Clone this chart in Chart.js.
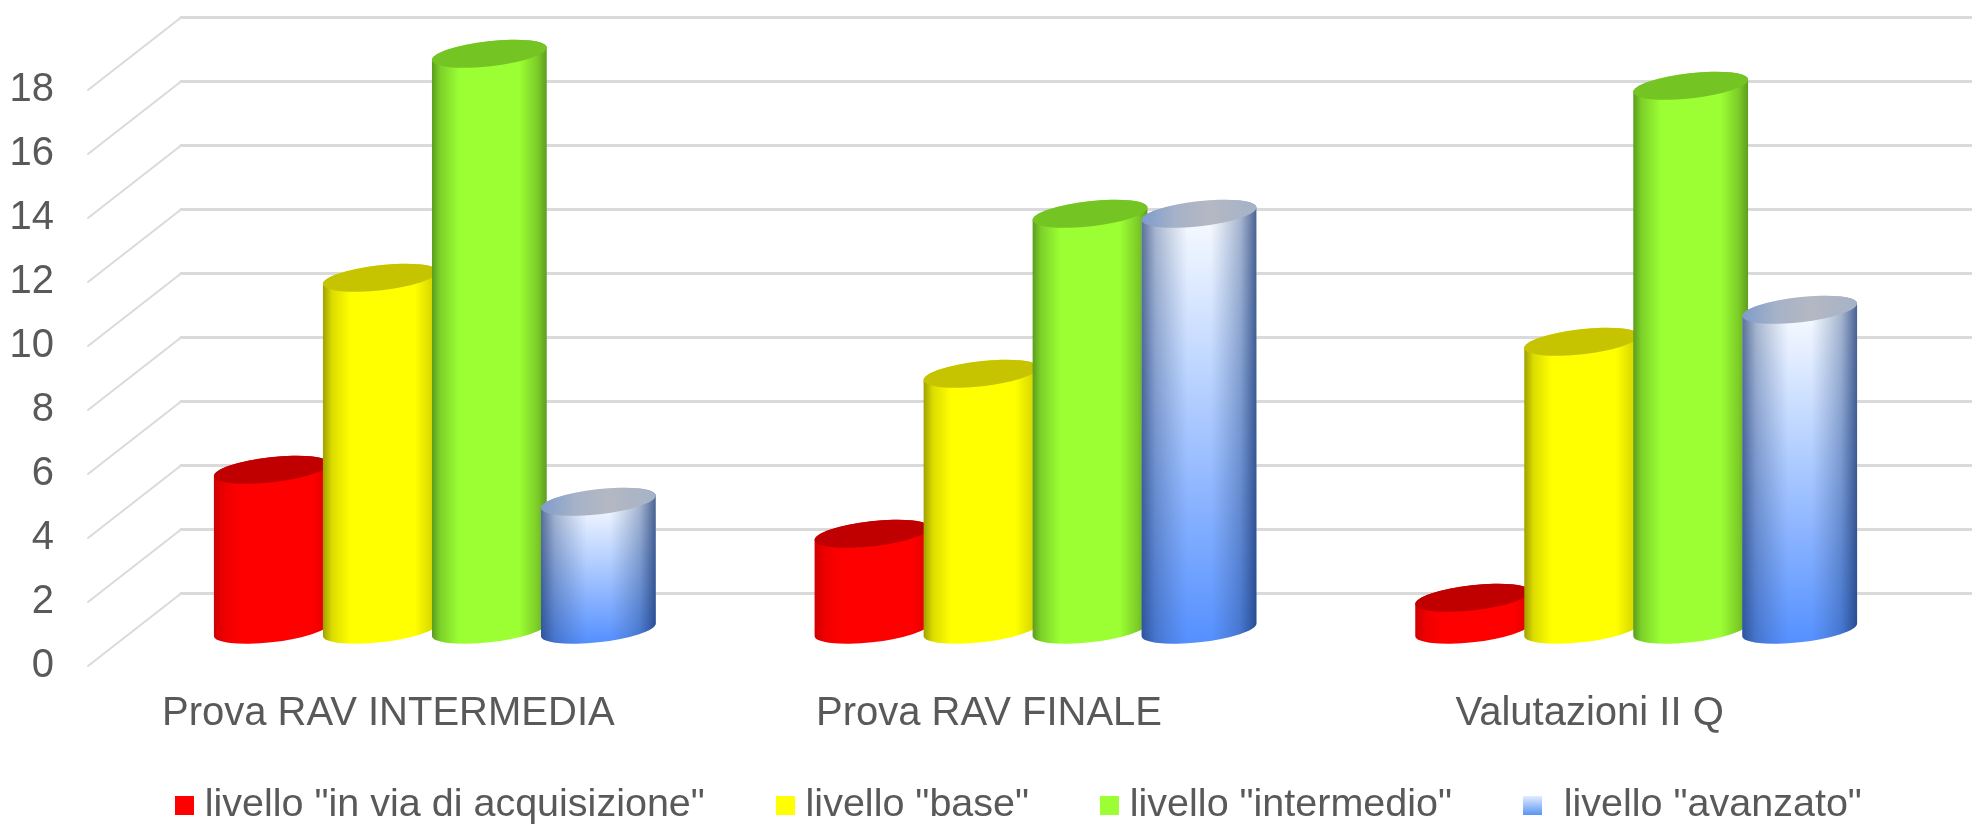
<!DOCTYPE html>
<html><head><meta charset="utf-8">
<style>html,body{margin:0;padding:0;background:#fff}#wrap{width:1972px;height:825px;overflow:hidden}canvas{filter:blur(0.7px)}</style>
<script src="https://cdn.jsdelivr.net/npm/chart.js@4"></script></head>
<body><div id="wrap"><canvas id="c" width="1972" height="825"></canvas></div>
<script>
const categories = ['Prova RAV INTERMEDIA', 'Prova RAV FINALE', 'Valutazioni II Q'];
const seriesNames = ['livello "in via di acquisizione"', 'livello "base"', 'livello "intermedio"', ' livello "avanzato"'];
const inVia = [5, 3, 1];
const base = [11, 8, 9];
const intermedio = [18, 13, 17];
const avanzato = [4, 13, 10];
const seriesColors = ['#FF0000', '#FFFF00', '#9BFF33', '#8FB8FF'];

const FONT = 'Liberation Sans, Arial, sans-serif';
const TEXT = '#595959';
const GRID = '#DADADA';
const DEPTH_X = 93, DEPTH_Y = 72.5;

const looks = [
  {stops: [[0,'#D00000'],[0.1,'#F00000'],[0.25,'#FF0000'],[0.85,'#FF0000'],[1,'#E00000']], cap: '#C00000'},
  {stops: [[0,'#A0A000'],[0.08,'#DCDC00'],[0.24,'#FFFF00'],[0.8,'#FFFF00'],[1,'#CCCC00']], cap: '#C6C400'},
  {stops: [[0,'#5A9C1E'],[0.07,'#7CD028'],[0.24,'#9BFF33'],[0.76,'#9BFF33'],[0.92,'#7CCB28'],[1,'#5E9E20']], cap: '#74C424'},
  {blue: true}
];

function swatch(i){
  const c = document.createElement('canvas'); c.width = 19; c.height = 19;
  const g = c.getContext('2d');
  if (i === 3) { const l = g.createLinearGradient(0,0,0,19); l.addColorStop(0,'#E4EEFF'); l.addColorStop(1,'#5B96F5'); g.fillStyle = l; }
  else g.fillStyle = seriesColors[i];
  g.fillRect(0,0,19,19);
  return c;
}

function drawCylinder(ctx, el, look){
  const cx = el.x + DEPTH_X/2, top = el.y - DEPTH_Y/2, bot = el.base - DEPTH_Y/2;
  const a = el.width/2 + 0.5, b = 12.5, th = -6.5*Math.PI/180;
  const t0 = Math.atan2(-b*Math.sin(th), a*Math.cos(th));
  const ex = a*Math.cos(t0)*Math.cos(th) - b*Math.sin(t0)*Math.sin(th);
  const ey = a*Math.cos(t0)*Math.sin(th) + b*Math.sin(t0)*Math.cos(th);
  const L = cx - ex, R = cx + ex;
  ctx.save();
  ctx.beginPath();
  ctx.moveTo(L, top - ey);
  ctx.lineTo(L, bot - ey);
  ctx.ellipse(cx, bot, a, b, th, t0 + Math.PI, t0, true);
  ctx.lineTo(R, top + ey);
  ctx.ellipse(cx, top, a, b, th, t0, t0 + Math.PI, true);
  ctx.closePath();
  if (look.blue) {
    const v = ctx.createLinearGradient(0, top, 0, bot + b);
    v.addColorStop(0, '#F8FBFF'); v.addColorStop(0.3,'#C8DCFF'); v.addColorStop(1, '#5590FF');
    ctx.fillStyle = v; ctx.fill();
    const h = ctx.createLinearGradient(L, 0, R, 0);
    h.addColorStop(0, 'rgba(30,60,115,0.72)');
    h.addColorStop(0.12, 'rgba(40,70,125,0.38)');
    h.addColorStop(0.4, 'rgba(60,90,140,0)');
    h.addColorStop(0.6, 'rgba(60,90,140,0)');
    h.addColorStop(0.86, 'rgba(35,70,130,0.38)');
    h.addColorStop(1, 'rgba(25,55,115,0.78)');
    ctx.fillStyle = h; ctx.fill();
  } else {
    const h = ctx.createLinearGradient(L, 0, R, 0);
    look.stops.forEach(s => h.addColorStop(s[0], s[1]));
    ctx.fillStyle = h; ctx.fill();
  }
  ctx.beginPath();
  ctx.ellipse(cx, top, a, b, th, 0, Math.PI*2);
  if (look.blue) {
    const h = ctx.createLinearGradient(L, 0, R, 0);
    h.addColorStop(0, '#7E9CCB'); h.addColorStop(0.3,'#A6B2C8'); h.addColorStop(0.6,'#B4B8C2'); h.addColorStop(1,'#A4B2C8');
    ctx.fillStyle = h;
  } else ctx.fillStyle = look.cap;
  ctx.fill();
  ctx.restore();
}

const wallPlugin = {
  id: 'wall',
  beforeDatasetsDraw(chart){
    const {ctx, chartArea, scales:{y}} = chart;
    ctx.save(); ctx.lineCap = 'round';
    y.ticks.forEach(t => {
      const py = y.getPixelForValue(t.value);
      ctx.strokeStyle = GRID;
      ctx.lineWidth = 2;
      ctx.beginPath(); ctx.moveTo(chartArea.left, py); ctx.lineTo(chartArea.left + DEPTH_X, py - DEPTH_Y); ctx.stroke();
      ctx.lineWidth = 3;
      ctx.beginPath(); ctx.moveTo(chartArea.left + DEPTH_X, py - DEPTH_Y); ctx.lineTo(chartArea.right + DEPTH_X, py - DEPTH_Y); ctx.stroke();
    });
    ctx.restore();
  },
  beforeDatasetDraw(){ return false; },
  afterDatasetsDraw(chart){
    chart.data.datasets.forEach((d, i) => {
      chart.getDatasetMeta(i).data.forEach(el => drawCylinder(chart.ctx, el, looks[i]));
    });
  },
  afterLayout(chart){
    const lg = chart.legend, p = lg.options.labels.padding;
    const start = (lg.left + p + lg.right - lg.lineWidths[0]) / 2;
    const shift = 184 - start, h = lg.bottom - lg.top;
    lg.left += shift; lg.right += shift;
    lg.top = 705.5; lg.bottom = 705.5 + h;
  }
};

new Chart(document.getElementById('c'), {
  type: 'bar',
  data: {
    labels: categories,
    datasets: [inVia, base, intermedio, avanzato].map((vals, i) => ({
      label: seriesNames[i], data: vals, backgroundColor: seriesColors[i],
      categoryPercentage: 0.726, barPercentage: 1.05
    }))
  },
  options: {
    responsive: false, animation: false,
    layout: {padding: {top: 90, right: 82, left: 0, bottom: -50.5}},
    plugins: {
      tooltip: {enabled: false},
      legend: {
        position: 'bottom',
        labels: {
          usePointStyle: true, pointStyleWidth: 1, padding: 80, color: TEXT,
          font: {family: FONT, size: 39.5},
          generateLabels: chart => chart.data.datasets.map((d, i) => ({
            text: d.label, pointStyle: swatch(i), fontColor: TEXT, datasetIndex: i, lineWidth: 0
          }))
        }
      }
    },
    scales: {
      x: {
        grid: {display: false}, border: {display: false},
        ticks: {color: TEXT, font: {family: FONT, size: 40}, padding: 16, maxRotation: 0},
        afterFit(s){ s.height = 80; }
      },
      y: {
        min: 0, max: 18,
        grid: {display: false}, border: {display: false},
        ticks: {stepSize: 2, color: TEXT, font: {family: FONT, size: 40}, padding: 26},
        afterFit(s){ s.width = 88; }
      }
    }
  },
  plugins: [wallPlugin]
});
</script></body></html>
